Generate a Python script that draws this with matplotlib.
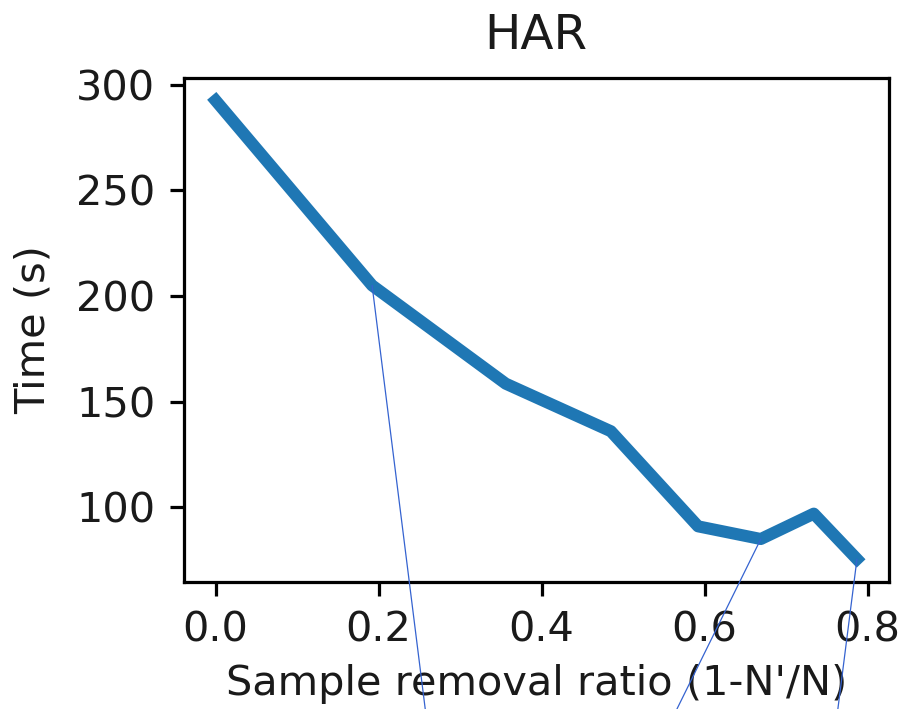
import numpy as np
import matplotlib
matplotlib.use("Agg")
import matplotlib.pyplot as plt

# sample removal ratio (1 - N'/N) and training time
ratio = [0.0, 0.192, 0.356, 0.485, 0.592, 0.669, 0.734, 0.787]
time_s = [292.5, 205.0, 158.5, 136.0, 91.0, 85.0, 97.0, 75.5]

# indices of points that carry a thin leader line to the bottom edge
leader_idx = [1, 5, 7]

SCALE = 2.9
FS = 10.3 * SCALE

plt.rcParams.update({
    "font.size": FS,
    "axes.linewidth": 0.8 * SCALE,
    "xtick.major.width": 0.8 * SCALE,
    "ytick.major.width": 0.8 * SCALE,
    "xtick.major.size": 3.5 * SCALE,
    "ytick.major.size": 3.5 * SCALE,
    "xtick.major.pad": 3.5 * SCALE,
    "ytick.major.pad": 3.5 * SCALE,
    "text.color": "#1a1a1a",
    "axes.labelcolor": "#1a1a1a",
    "xtick.labelcolor": "#1a1a1a",
    "ytick.labelcolor": "#1a1a1a",
})

fig = plt.figure(figsize=(8.99, 7.09), dpi=100)
ax = fig.add_axes([0.2042, 0.1791, 0.7847, 0.7115])
ax.plot(ratio, time_s, lw=3 * SCALE, color="#1f77b4")
ax.set_title("HAR", fontsize=12 * SCALE, pad=7 * SCALE)
ax.set_xlabel("Sample removal ratio (1-N'/N)", labelpad=3.5 * SCALE)
ax.set_ylabel("Time (s)", labelpad=5.5 * SCALE)
ax.set_xticks([0.0, 0.2, 0.4, 0.6, 0.8])
ax.set_yticks([100, 150, 200, 250, 300])

# thin leader lines running off the bottom of the figure
leader_ends = [0.473, 0.753, 0.932]
for i, xe in zip(leader_idx, leader_ends):
    ax.annotate("", xy=(ratio[i], time_s[i]), xycoords="data",
                xytext=(xe, 0.0), textcoords="figure fraction",
                arrowprops=dict(arrowstyle="-", color="#3563d0", lw=0.9,
                                shrinkA=0, shrinkB=0), zorder=5)

fig.savefig("out.png", dpi=100)
